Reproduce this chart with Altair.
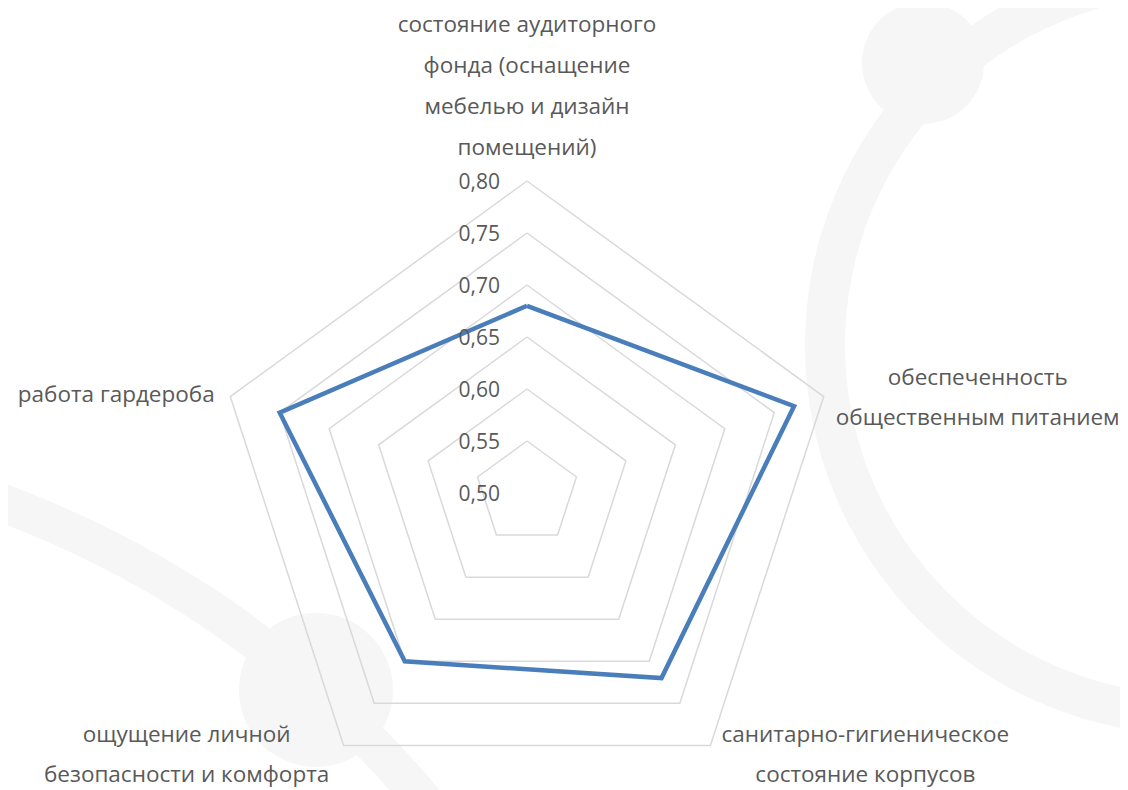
import math
import altair as alt
import pandas as pd

# ---------------- data ----------------
categories = [
    "состояние аудиторного\nфонда (оснащение\nмебелью и дизайн\nпомещений)",
    "обеспеченность\nобщественным питанием",
    "санитарно-гигиеническое\nсостояние корпусов",
    "ощущение личной\nбезопасности и комфорта",
    "работа гардероба",
]
values = [0.68, 0.77, 0.72, 0.70, 0.75]
tick_values = [0.50, 0.55, 0.60, 0.65, 0.70, 0.75, 0.80]
tick_labels = ["0,50", "0,55", "0,60", "0,65", "0,70", "0,75", "0,80"]

R_MIN, R_MAX = 0.50, 0.80
N = len(categories)

# ---------------- layout ----------------
W, H = 1112, 782
CX, CY = 519, 485          # centre of the radar in chart pixels
PX = 1040                  # pixels per value unit
XDOM = [-CX / PX, (W - CX) / PX]
YDOM = [-(H - CY) / PX, CY / PX]
FONT = "Open Sans"
TXT = "#595959"

series_df = pd.DataFrame({
    "order": list(range(N + 1)),
    "idx": [i % N for i in range(N + 1)],
    "value": [values[i % N] for i in range(N + 1)],
})
grid_df = pd.DataFrame(
    [{"level": t, "order": k, "idx": k % N, "value": t}
     for t in tick_values[1:] for k in range(N + 1)]
)
tick_df = pd.DataFrame({"value": tick_values, "label": tick_labels, "idx": 0})
cat_df = pd.DataFrame({"idx": list(range(N)), "label": categories, "value": R_MAX})

def polar(chart):
    return chart.transform_calculate(
        ang=f"datum.idx * 2 * PI / {N}",
    ).transform_calculate(
        px=f"(datum.value - {R_MIN}) * sin(datum.ang)",
        py=f"(datum.value - {R_MIN}) * cos(datum.ang)",
    )

X = alt.X("px:Q", scale=alt.Scale(domain=XDOM, nice=False, zero=False), axis=None)
Y = alt.Y("py:Q", scale=alt.Scale(domain=YDOM, nice=False, zero=False), axis=None)

WM = "#f6f6f6"
one = alt.Data(values=[{"a": 1}])
wm_ring = alt.Chart(one).mark_arc(
    x=1187, y=337, radius=390, radius2=350, theta=0, theta2=2 * math.pi, color=WM
)
wm_band = alt.Chart(one).mark_arc(
    x=-356, y=1438, radius=1025, radius2=987, theta=0, theta2=2 * math.pi, color=WM
)
wm_dot1 = alt.Chart(one).mark_arc(
    x=915, y=55, radius=61, theta=0, theta2=2 * math.pi, color=WM
)
wm_dot2 = alt.Chart(one).mark_arc(
    x=308, y=682, radius=77, theta=0, theta2=2 * math.pi, color=WM
)

grid = polar(alt.Chart(grid_df)).mark_line(
    color="#d9d9d9", strokeWidth=1.5
).encode(x=X, y=Y, detail="level:N", order="order:Q")

series = polar(alt.Chart(series_df)).mark_line(
    color="#4A7EBB", strokeWidth=4.5, strokeJoin="miter"
).encode(x=X, y=Y, order="order:Q")

ticks = polar(alt.Chart(tick_df)).mark_text(
    font=FONT, fontSize=21, color=TXT, align="right", baseline="middle", dx=-27, dy=2
).encode(x=X, y=Y, text="label:N")

# offsets of the first text line from the outer vertex of each axis
offsets = [(0, -156, 41), (154, -19, 40), (155, -10, 40), (-157, -10, 40), (-114, -2, 40)]
labels = []
for i, (ox, oy, lh) in enumerate(offsets):
    labels.append(
        polar(alt.Chart(cat_df)).transform_filter(f"datum.idx == {i}").mark_text(
            font=FONT, fontSize=22.5, color=TXT, align="center", baseline="middle",
            lineBreak="\n", lineHeight=lh, dx=ox, dy=oy
        ).encode(x=X, y=Y, text="label:N")
    )

chart = alt.layer(
    wm_ring, wm_band, wm_dot1, wm_dot2, grid, series, ticks, *labels
).properties(
    width=W, height=H, autosize=alt.AutoSizeParams(type="none"), padding=0
).configure_view(stroke=None)

chart.save("out.html", embed_options={"renderer": "svg", "actions": False})
